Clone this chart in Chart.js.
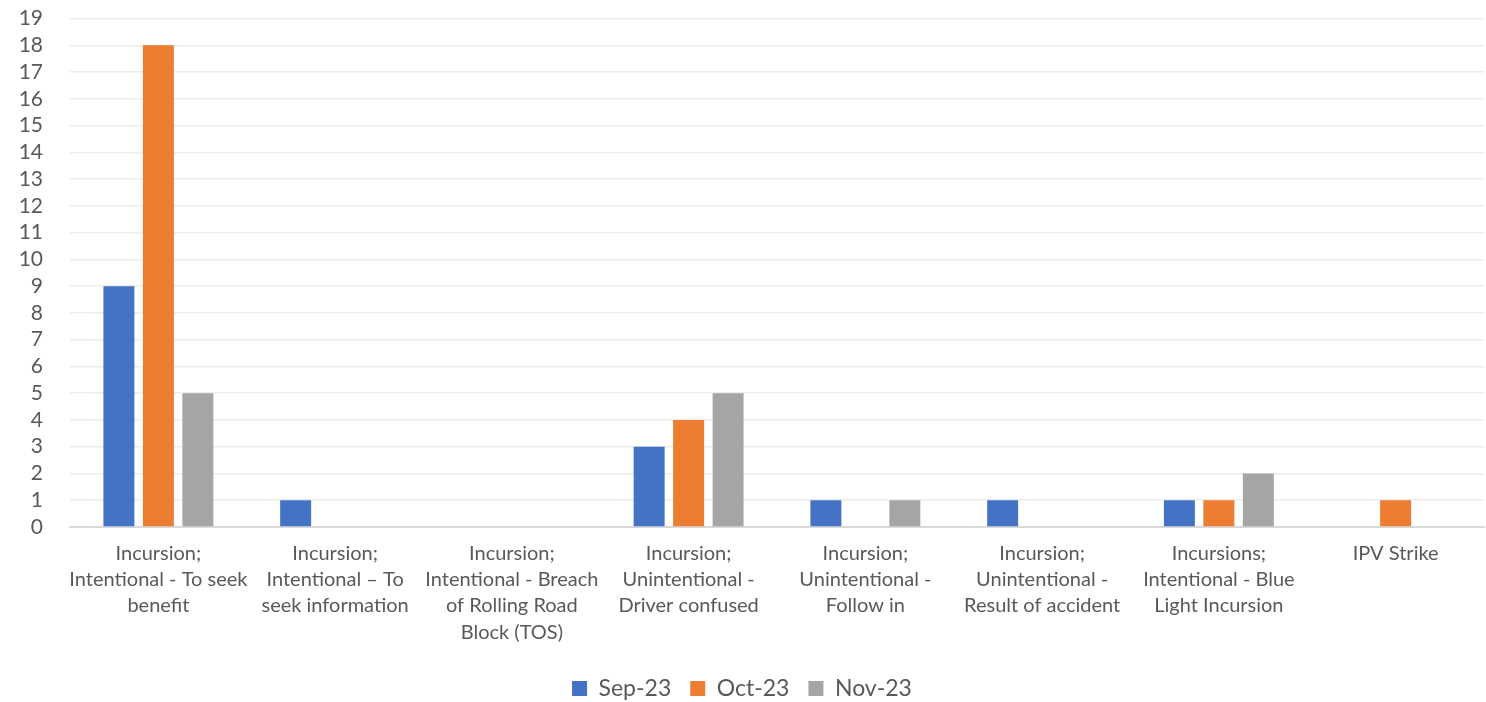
<!DOCTYPE html>
<html>
<head>
<meta charset="utf-8">
<script src="https://cdn.jsdelivr.net/npm/chart.js@4"></script>
<style>
  body { margin: 0; background: #fff; }
</style>
</head>
<body>
<canvas id="chart" width="1486" height="702"></canvas>
<script>
// categories (multi-line as in the source)
const categories = [
    ['Incursion;', 'Intentional - To seek', 'benefit'],
    ['Incursion;', 'Intentional \u2013 To', 'seek information'],
    ['Incursion;', 'Intentional - Breach', 'of Rolling Road', 'Block (TOS)'],
    ['Incursion;', 'Unintentional -', 'Driver confused'],
    ['Incursion;', 'Unintentional -', 'Follow in'],
    ['Incursion;', 'Unintentional -', 'Result of accident'],
    ['Incursions;', 'Intentional - Blue', 'Light Incursion'],
    ['IPV Strike']
];

const sep23 = [9, 1, 0, 3, 1, 1, 1, 0];
const oct23 = [18, 0, 0, 4, 0, 0, 1, 1];
const nov23 = [5, 0, 0, 5, 1, 0, 2, 0];

const yMin = 0;
const yMax = 19;

const font = "Lato, 'Open Sans', sans-serif";
const textColor = '#595959';

const ctx = document.getElementById('chart').getContext('2d');

new Chart(ctx, {
    type: 'bar',
    data: {
        labels: categories,
        datasets: [
            { label: 'Sep-23', data: sep23, backgroundColor: '#4472C4' },
            { label: 'Oct-23', data: oct23, backgroundColor: '#ED7D31' },
            { label: 'Nov-23', data: nov23, backgroundColor: '#A5A5A5' }
        ]
    },
    options: {
        responsive: false,
        animation: false,
        categoryPercentage: 0.67,
        barPercentage: 0.785,
        layout: { padding: { top: 0, right: 2, bottom: -8, left: 0 } },
        plugins: {
            tooltip: { enabled: false },
            legend: {
                position: 'bottom',
                labels: {
                    color: textColor,
                    font: { family: font, size: 23 },
                    boxWidth: 15,
                    boxHeight: 15,
                    padding: 19
                }
            }
        },
        scales: {
            x: {
                grid: { display: false },
                border: { color: '#d9d9d9', width: 2 },
                ticks: {
                    color: textColor,
                    font: { family: font, size: 20, lineHeight: 1.32 },
                    padding: 5,
                    maxRotation: 0,
                    autoSkip: false
                },
                afterFit: (scale) => { scale.height = 131; }
            },
            y: {
                min: yMin,
                max: yMax,
                grid: { color: '#ececec', lineWidth: 1.5, tickLength: 21, tickColor: 'rgba(0,0,0,0)' },
                border: { display: false },
                ticks: {
                    stepSize: 1,
                    autoSkip: false,
                    color: textColor,
                    font: { family: font, size: 21 },
                    padding: 6
                },
                afterFit: (scale) => { scale.width = 70; }
            }
        }
    }
});
</script>
</body>
</html>
